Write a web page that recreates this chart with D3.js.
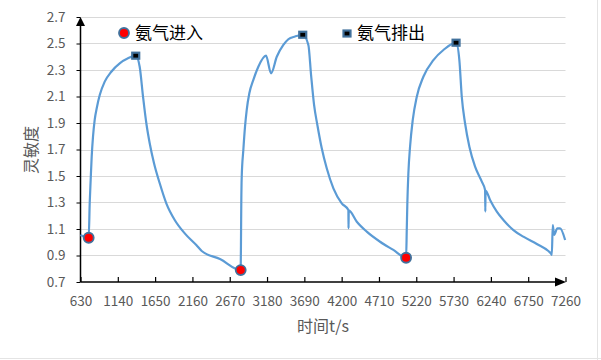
<!DOCTYPE html>
<html><head><meta charset="utf-8">
<script src="https://cdn.jsdelivr.net/npm/d3@7/dist/d3.min.js"></script>
<style>
html,body{margin:0;padding:0;background:#fff;}
svg{display:block;}
text{font-family:"Noto Sans CJK SC","Noto Sans",sans-serif;}
</style></head>
<body>
<svg id="c" width="601" height="360"></svg>
<script>
// time (s) and sensitivity values of the curve
const times = [630,742,756,769,783,801,824,856,893,961,1051,1166,1279,1385,1439,1485,1530,1576,1635,1713,1803,1918,2055,2213,2287,2537,2820,2825,2828,2834,2856,2879,2902,2938,2993,3061,3166,3235,3313,3403,3471,3563,3668,3745,3782,3823,3868,3928,3996,4087,4201,4292,4294,4297,4407,4543,4725,4907,5081,5090,5098,5112,5135,5172,5227,5317,5454,5591,5764,5809,5842,5887,5946,6024,6116,6161,6164,6167,6229,6321,6411,6548,6684,6868,7026,7056,7073,7086,7104,7149,7186,7255];
const values = [1.055,1.034,1.296,1.47,1.646,1.797,1.923,2.023,2.111,2.212,2.287,2.35,2.388,2.408,2.325,2.098,1.898,1.747,1.596,1.445,1.294,1.168,1.067,0.979,0.934,0.874,0.79,1.092,1.294,1.495,1.696,1.872,1.998,2.124,2.225,2.325,2.408,2.275,2.4,2.489,2.532,2.553,2.566,2.489,2.262,2.036,1.885,1.709,1.558,1.407,1.294,1.243,1.105,1.24,1.155,1.08,1.004,0.942,0.883,1.092,1.294,1.52,1.721,1.923,2.098,2.249,2.375,2.451,2.506,2.375,2.098,1.898,1.721,1.57,1.457,1.394,1.231,1.39,1.319,1.231,1.168,1.092,1.042,0.987,0.934,0.919,0.904,1.13,1.055,1.105,1.105,1.017];
// ammonia in / out markers
const entryTimes = [742,2820,5081];
const entryValues = [1.034,0.79,0.883];
const exitTimes = [1385,3668,5764];
const exitValues = [2.408,2.566,2.506];
const xTicks = [630,1140,1650,2160,2670,3180,3690,4200,4710,5220,5730,6240,6750,7260];
const yTicks = [0.7,0.9,1.1,1.3,1.5,1.7,1.9,2.1,2.3,2.5,2.7];
const legendLabels = ["氨气进入","氨气排出"];
const xTitle = "时间t/s";
const yTitle = "灵敏度";

const svg = d3.select("#c");
const x = d3.scaleLinear().domain([630,7260]).range([80.5,565.5]);
const y = d3.scaleLinear().domain([0.7,2.7]).range([282,17]);

// faint sheet lines
svg.append("line").attr("x1",0).attr("x2",601).attr("y1",358.5).attr("y2",358.5).attr("stroke","#e4e4e4");
svg.append("line").attr("x1",597.5).attr("x2",597.5).attr("y1",0).attr("y2",360).attr("stroke","#e4e4e4");

// gridlines
svg.append("g").selectAll("line").data(yTicks.filter(d=>d>0.7)).join("line")
  .attr("x1",x(630)).attr("x2",x(7260))
  .attr("y1",d=>Math.round(y(d))+0.5).attr("y2",d=>Math.round(y(d))+0.5)
  .attr("stroke","#d9d9d9").attr("stroke-width",1);

// y axis
const yAxis = d3.axisLeft(y).tickValues(yTicks).tickFormat(d3.format(".1f")).tickSize(4).tickPadding(11);
const gy = svg.append("g").attr("transform",`translate(${x(630)},0)`).call(yAxis);
gy.select(".domain").remove();
gy.selectAll(".tick line").attr("stroke","#000");
gy.selectAll("text").attr("fill","#595959").attr("font-size",13.5);

// x axis
const xAxis = d3.axisBottom(x).tickValues(xTicks).tickFormat(d3.format("d")).tickSize(-5).tickPadding(14);
const gx = svg.append("g").attr("transform",`translate(0,${y(0.7)})`).call(xAxis);
gx.select(".domain").remove();
gx.selectAll(".tick line").attr("stroke","#000").attr("stroke-width",1.2);
gx.selectAll("text").attr("fill","#595959").attr("font-size",13.5);

// axis lines with arrows
svg.append("line").attr("x1",x(630)).attr("x2",x(630)).attr("y1",y(0.7)).attr("y2",y(2.7)+6)
  .attr("stroke","#000").attr("stroke-width",1.5);
svg.append("line").attr("x1",x(630)).attr("x2",x(7260)-6).attr("y1",y(0.7)).attr("y2",y(0.7))
  .attr("stroke","#000").attr("stroke-width",1.5);
const ax = x(630), ay = y(2.7);
svg.append("path").attr("d",`M${ax},${ay} L${ax-4.5},${ay+9} L${ax+4.5},${ay+9} Z`).attr("fill","#000");
const bx = x(7260)+0.5, by = y(0.7);
svg.append("path").attr("d",`M${bx},${by} L${bx-11},${by-4.5} L${bx-11},${by+4.5} Z`).attr("fill","#000");

// curve
const pts = times.map((t,i)=>[t,values[i]]);
svg.append("path").datum(pts)
  .attr("d",d3.line().curve(d3.curveMonotoneX).x(d=>x(d[0])).y(d=>y(d[1])))
  .attr("fill","none").attr("stroke","#5b9bd5").attr("stroke-width",2.2).attr("stroke-linejoin","round");

// markers
const markStroke = "#41719c";
svg.append("g").selectAll("circle").data(entryTimes.map((t,i)=>[t,entryValues[i]])).join("circle")
  .attr("cx",d=>x(d[0])).attr("cy",d=>y(d[1])).attr("r",5)
  .attr("fill","#ff0000").attr("stroke",markStroke).attr("stroke-width",1.8);
svg.append("g").selectAll("rect").data(exitTimes.map((t,i)=>[t,exitValues[i]])).join("rect")
  .attr("x",d=>x(d[0])-3.5).attr("y",d=>y(d[1])-3).attr("width",7).attr("height",6)
  .attr("fill","#000").attr("stroke",markStroke).attr("stroke-width",2.2);

// legend
svg.append("circle").attr("cx",124).attr("cy",33).attr("r",5)
  .attr("fill","#ff0000").attr("stroke",markStroke).attr("stroke-width",1.8);
svg.append("text").attr("x",135).attr("y",33).attr("dy","0.36em").attr("font-size",17)
  .attr("fill","#000").text(legendLabels[0]);
svg.append("rect").attr("x",343.5).attr("y",30.5).attr("width",7).attr("height",6)
  .attr("fill","#000").attr("stroke",markStroke).attr("stroke-width",2.2);
svg.append("text").attr("x",357).attr("y",33).attr("dy","0.36em").attr("font-size",17)
  .attr("fill","#000").text(legendLabels[1]);

// titles
svg.append("text").attr("x",323).attr("y",326).attr("dy","0.36em").attr("text-anchor","middle")
  .attr("font-size",16).attr("fill","#595959").text(xTitle);
svg.append("text").attr("transform","translate(31,150) rotate(-90)").attr("dy","0.36em")
  .attr("text-anchor","middle").attr("font-size",16).attr("fill","#595959").text(yTitle);
</script>
</body></html>
